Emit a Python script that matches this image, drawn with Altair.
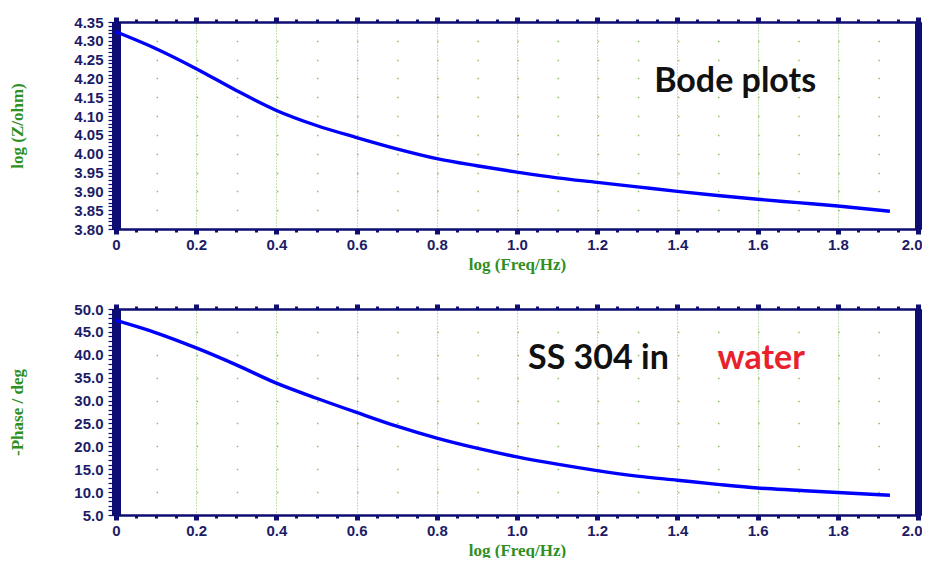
import altair as alt
import pandas as pd

# ---- data ----
log_freq = [0.0, 0.1, 0.2, 0.3, 0.4, 0.5, 0.6, 0.7, 0.8, 0.9, 1.0,
            1.1, 1.2, 1.3, 1.4, 1.5, 1.6, 1.7, 1.8, 1.93]
log_z = [4.324, 4.279, 4.226, 4.168, 4.115, 4.075, 4.043, 4.013, 3.987, 3.968, 3.951,
         3.936, 3.924, 3.912, 3.900, 3.889, 3.879, 3.870, 3.861, 3.847]
neg_phase = [47.5, 44.8, 41.5, 37.8, 33.8, 30.5, 27.4, 24.4, 21.8, 19.6, 17.7,
             16.1, 14.7, 13.5, 12.6, 11.7, 10.9, 10.4, 9.9, 9.3]

x_tick_values = [round(i * 0.05, 2) for i in range(41)]
z_tick_values = [round(3.80 + i * 0.01, 2) for i in range(56)]
phase_tick_values = [float(v) for v in range(5, 51)]

NAVY = "#0d0d73"
LABEL = "#1c1c66"
TITLE_GREEN = "#2f8f1f"
GRID = "#8cc068"
LINE = "#0000ff"

W = 802

df = pd.DataFrame({"f": log_freq, "z": log_z, "p": neg_phase})

x_scale = alt.Scale(domain=[0, 2], nice=False, zero=False)

x_major = "abs(datum.value*5 - round(datum.value*5)) < 0.001"
x_last = "datum.value > 1.99"


def x_bottom_axis():
    return alt.Axis(
        orient="bottom", values=x_tick_values, title="log (Freq/Hz)",
        labelExpr=f"{x_major} ? (datum.value == 0 ? '0' : format(datum.value, '.1f')) : ''",
        labelOverlap=False, labelFlush=False,
        labelAlign={"condition": {"test": x_last, "value": "right"}, "value": "center"},
        labelOffset={"condition": {"test": x_last, "value": 4}, "value": 0},
        labelFont="Liberation Sans", labelFontWeight="bold", labelFontSize=15,
        labelColor=LABEL, labelPadding=3,
        titleFont="Liberation Serif", titleFontWeight="bold", titleFontSize=17,
        titleColor=TITLE_GREEN, titlePadding=4,
        domainColor=NAVY, domainWidth=2.5,
        tickColor=NAVY,
        tickSize={"condition": {"test": x_major, "value": 5}, "value": 3},
        tickWidth={"condition": {"test": x_major, "value": 5}, "value": 3},
        grid=False,
    )


def x_top_axis():
    return alt.Axis(
        orient="top", values=x_tick_values, title=None, labels=False,
        domainColor=NAVY, domainWidth=2.5, tickColor=NAVY,
        tickSize={"condition": {"test": x_major, "value": 5}, "value": 3},
        tickWidth={"condition": {"test": x_major, "value": 5}, "value": 3},
        grid=True, gridColor=GRID, gridDash=[1, 2], gridWidth=1,
        gridOpacity={"condition": {"test": x_major, "value": 1}, "value": 0},
    )


def panel(field, domain, tick_values, major_test, fmt, title, height, notes):
    y_scale = alt.Scale(domain=domain, nice=False, zero=False)
    left_axis = alt.Axis(
        orient="left", values=tick_values, title=title,
        labelExpr=f"{major_test} ? format(datum.value, '{fmt}') : ''",
        labelOverlap=False, labelFlush=False,
        labelFont="Liberation Sans", labelFontWeight="bold", labelFontSize=15,
        labelColor=LABEL, labelPadding=5,
        titleFont="Liberation Serif", titleFontWeight="bold", titleFontSize=17,
        titleColor=TITLE_GREEN, titlePadding=47,
        domainColor=NAVY, domainWidth=9,
        tickColor=NAVY, tickSize=8, tickWidth=1.2,
        grid=True, gridColor=GRID, gridWidth=1.5,
        gridDash=[1.5, W * 0.05 - 1.5],
        gridOpacity={"condition": {"test": major_test, "value": 1}, "value": 0},
    )
    right_axis = alt.Axis(
        orient="right", values=tick_values, title=None, labels=False,
        domainColor=NAVY, domainWidth=7, tickColor=NAVY, tickSize=3, tickWidth=1.2,
        grid=False,
    )
    base = alt.Chart(df)
    line = base.mark_line(color=LINE, strokeWidth=3.4, interpolate="monotone").encode(
        x=alt.X("f:Q", scale=x_scale, axis=x_bottom_axis()),
        y=alt.Y(f"{field}:Q", scale=y_scale, axis=left_axis),
    )
    frame = base.mark_line(opacity=0).encode(
        x=alt.X("f:Q", scale=x_scale, axis=x_top_axis()),
        y=alt.Y(f"{field}:Q", scale=y_scale, axis=right_axis),
    )
    layers = [frame, line]
    for text, color, xd, yd in notes:
        layers.append(
            alt.Chart(pd.DataFrame({"t": [text]})).mark_text(
                font="Lato", fontWeight="bold", fontSize=34, color=color,
                baseline="middle", align="center",
            ).encode(
                x=alt.XDatum(xd, axis=None, scale=x_scale),
                y=alt.YDatum(yd, axis=None, scale=y_scale),
                text="t:N",
            )
        )
    return alt.layer(*layers).resolve_axis(x="independent", y="independent").properties(
        width=W, height=height
    )


top = panel(
    "z", [3.80, 4.35], z_tick_values,
    "abs(datum.value*20 - round(datum.value*20)) < 0.001", ".2f",
    "log (Z/ohm)", 207,
    [("Bode plots", "#111111", 1.544, 4.19)],
)
bottom = panel(
    "p", [5, 50], phase_tick_values,
    "abs(datum.value/5 - round(datum.value/5)) < 0.001", ".1f",
    "-Phase / deg", 206,
    [("SS 304 in", "#111111", 1.203, 39.0), ("water", "#e8212b", 1.609, 39.0)],
)

chart = alt.vconcat(top, bottom, spacing=29).properties(
    padding={"left": 0, "top": 6, "right": 0, "bottom": 0},
    background="white",
).configure_view(stroke=None)

chart.save("out.html", embed_options={"renderer": "svg", "actions": False})
